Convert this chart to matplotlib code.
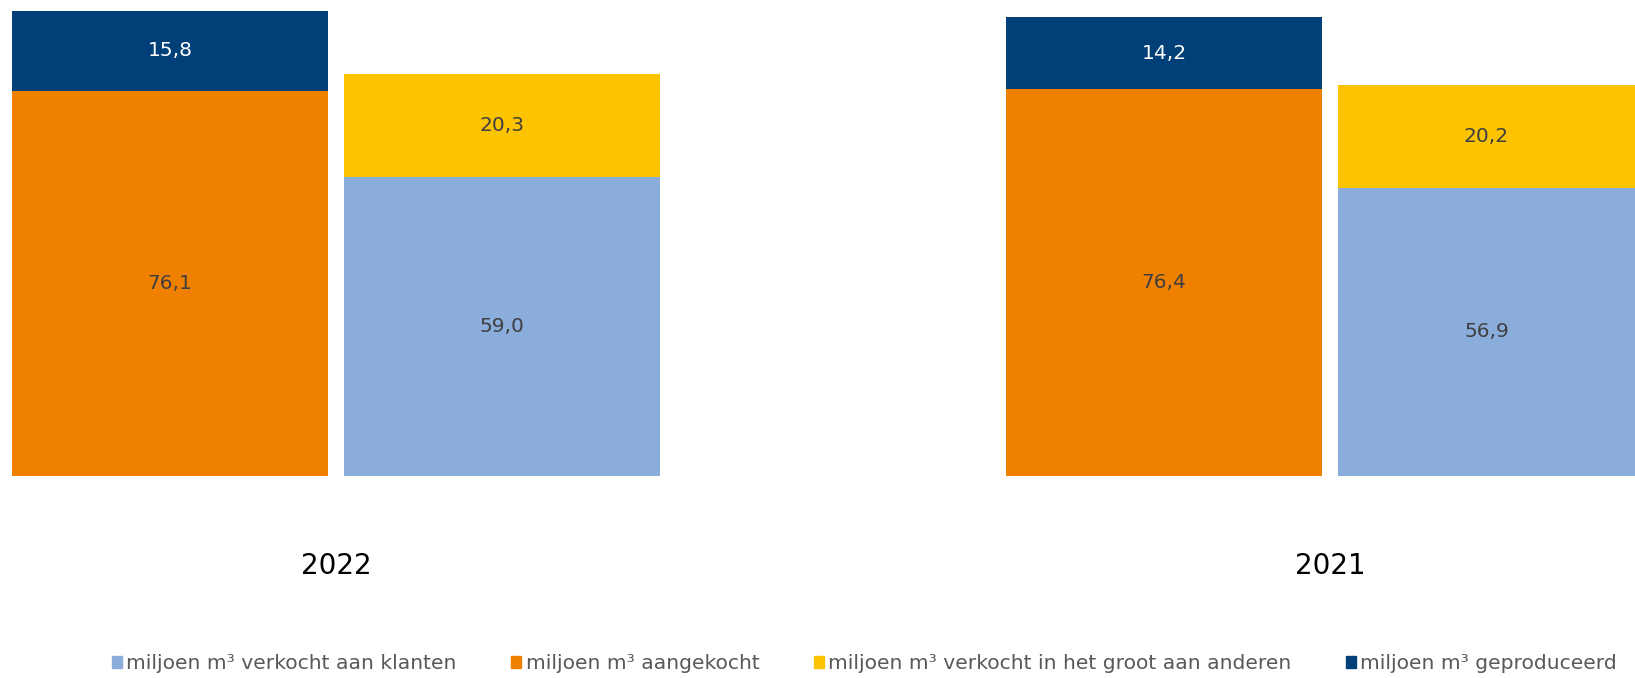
import matplotlib
matplotlib.use('Agg')
import matplotlib.pyplot as plt
from matplotlib.patches import Patch
import numpy as np

years = ['2022', '2021']
aangekocht = [76.1, 76.4]
geproduceerd = [15.8, 14.2]
verkocht_klanten = [59.0, 56.9]
verkocht_groot = [20.3, 20.2]

labels = [
    'miljoen m³ verkocht aan klanten',
    'miljoen m³ aangekocht',
    'miljoen m³ verkocht in het groot aan anderen',
    'miljoen m³ geproduceerd',
]
c_blue_l = '#8AADDB'
c_orange = '#F08100'
c_yellow = '#FCC300'
c_blue_d = '#003F77'
txt_dark = '#404040'

plt.rcParams['font.family'] = ['DejaVu Sans']

fig = plt.figure(figsize=(16.35, 6.78), dpi=100)
ax = fig.add_axes([0, 202.5 / 678, 1, 475.5 / 678])

x = np.arange(len(years))
w = 0.318
off = 0.167

# left bar: aangekocht + geproduceerd
b1 = ax.bar(x - off, aangekocht, w, color=c_orange, linewidth=0)
b2 = ax.bar(x - off, geproduceerd, w, bottom=aangekocht, color=c_blue_d, linewidth=0)
# right bar: verkocht aan klanten + in het groot
b3 = ax.bar(x + off, verkocht_klanten, w, color=c_blue_l, linewidth=0)
b4 = ax.bar(x + off, verkocht_groot, w, bottom=verkocht_klanten, color=c_yellow, linewidth=0)

def fmt(v):
    return f'{v:.1f}'.replace('.', ',')

for bars, col in [(b1, txt_dark), (b2, 'white'), (b3, txt_dark), (b4, txt_dark)]:
    ax.bar_label(bars, labels=[fmt(b.get_height()) for b in bars],
                 label_type='center', color=col, fontsize=14.5)

ax.set_xlim(-0.338, 1.307)
ax.set_ylim(0, 94)
ax.set_yticks([])
ax.set_xticks(x)
ax.set_xticklabels(years, fontsize=20, color='black')
ax.tick_params(axis='x', length=0, pad=55)
for s in ax.spines.values():
    s.set_visible(False)

handles = [Patch(color=c) for c in [c_blue_l, c_orange, c_yellow, c_blue_d]]
leg = fig.legend(handles, labels, ncol=4, loc='center left',
                 bbox_to_anchor=(112 / 1635, 0.021), frameon=False,
                 fontsize=14.6, handlelength=0.5, handleheight=0.5,
                 handletextpad=0.2, columnspacing=2.7, borderpad=0,
                 borderaxespad=0)
for t in leg.get_texts():
    t.set_color('#595959')

fig.savefig('out.png', dpi=100)
